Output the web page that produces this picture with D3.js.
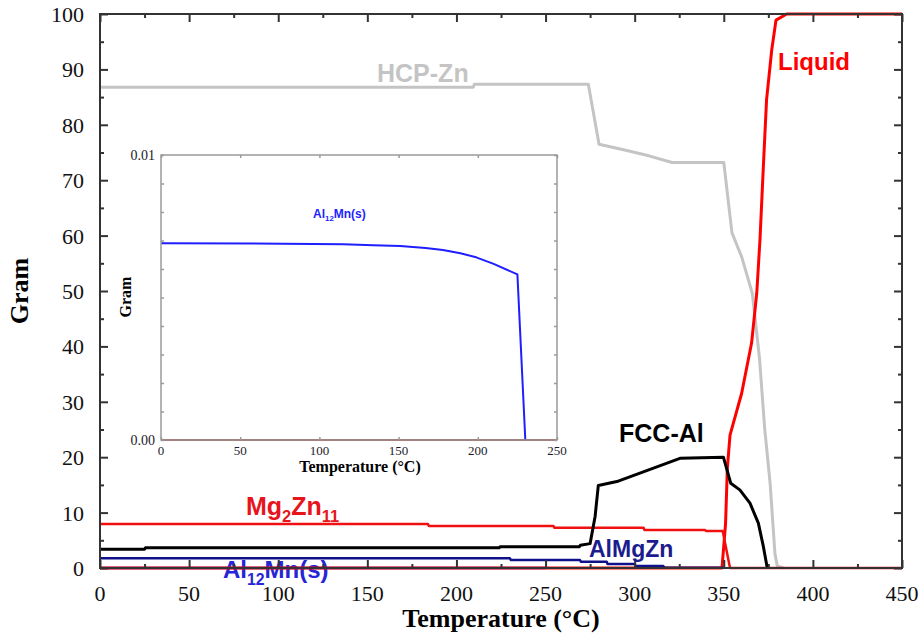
<!DOCTYPE html>
<html>
<head>
<meta charset="utf-8">
<script src="https://cdn.jsdelivr.net/npm/d3@7"></script>
<style>
  body { margin: 0; background: #fff; }
  svg { display: block; }
</style>
</head>
<body>
<svg id="chart" width="922" height="639"></svg>
<script>
// Equilibrium phase amounts (gram) versus temperature (°C)
const hcpZnTemp = [0, 209.5, 210, 274, 280, 295, 308, 321, 350, 354.6, 360, 366, 370, 373, 376, 378.7, 380, 383.4];
const hcpZnGram = [86.8, 86.8, 87.3, 87.3, 76.5, 75.4, 74.4, 73.2, 73.2, 60.5, 56.2, 49.6, 38, 25, 15.3, 2.6, 0.4, 0];

const liquidTemp = [0, 349, 351, 352, 353.5, 360, 365.6, 368.5, 370.3, 372.2, 374, 376.9, 379.3, 385.3, 450];
const liquidGram = [0, 0, 8, 18, 24, 31.5, 40.6, 49.6, 59.2, 72.4, 84.5, 93.5, 98.9, 100, 100];

const fccAlTemp = [0, 25, 25.5, 224, 224.5, 269, 269.5, 275, 277.8, 279.6, 290, 325.4, 349.8, 353.9, 359, 364.7, 369.4, 372.2, 374.4];
const fccAlGram = [3.4, 3.4, 3.67, 3.67, 3.85, 3.85, 4.1, 4.4, 9.3, 14.9, 15.6, 19.8, 20.0, 15.3, 14.1, 11.7, 8.1, 3.9, 0];

const mg2Zn11Temp = [0, 184, 184.5, 254.4, 255, 305, 305.5, 339.5, 340, 349.4, 353.5, 450];
const mg2Zn11Gram = [7.94, 7.94, 7.58, 7.58, 7.27, 7.27, 6.86, 6.86, 6.68, 6.68, 0, 0];

const alMgZnTemp = [0, 230, 230.5, 269.3, 269.8, 284.3, 284.8, 300, 300.5, 316, 316.5, 350];
const alMgZnGram = [1.75, 1.75, 1.44, 1.44, 1.14, 1.14, 0.72, 0.72, 0.36, 0.36, 0.1, 0.05];

// Al12Mn(s) is tiny; it gets its own magnified panel
const al12MnTemp = [0, 77, 115, 134, 151, 167, 178, 189, 199, 210, 225, 230, 250];
const al12MnGram = [0.0069, 0.00689, 0.00687, 0.00683, 0.00681, 0.00674, 0.00667, 0.00655, 0.00641, 0.00618, 0.00581, 0, 0];
const insetBaseTemp = [0, 250];
const insetBaseGram = [0, 0];

// axis ticks
const mainXTicks = [0, 50, 100, 150, 200, 250, 300, 350, 400, 450];
const mainXMinor = [25, 75, 125, 175, 225, 275, 325, 375, 425];
const mainYTicks = [0, 10, 20, 30, 40, 50, 60, 70, 80, 90, 100];
const mainYMinor = [5, 15, 25, 35, 45, 55, 65, 75, 85, 95];
const insetXTicks = [0, 50, 100, 150, 200, 250];
const insetXMinor = [25, 75, 125, 175, 225];
const insetYLabels = [0, 0.01];
const insetYTicks = [0, 0.001, 0.002, 0.003, 0.004, 0.005, 0.006, 0.007, 0.008, 0.009, 0.01];

const zip = (t, g) => t.map((d, i) => [d, g[i]]);

const svg = d3.select('#chart');
const serif = '"Liberation Serif", "Times New Roman", serif';
const sans = '"Liberation Sans", Arial, sans-serif';

// ---------- main panel ----------
const x = d3.scaleLinear().domain([0, 450]).range([100, 902]);
const y = d3.scaleLinear().domain([0, 100]).range([568, 14]);

function drawFrame(g, xs, ys, xMaj, xMin, yMaj, yMin, big, small, color, width) {
  const [x0, x1] = xs.range();
  const [y0, y1] = ys.range();
  const sides = [
    [d3.axisBottom, xs, xMaj, xMin, `translate(0,${y0})`],
    [d3.axisTop, xs, xMaj, xMin, `translate(0,${y1})`],
    [d3.axisLeft, ys, yMaj, yMin, `translate(${x0},0)`],
    [d3.axisRight, ys, yMaj, yMin, `translate(${x1},0)`]
  ];
  sides.forEach(([ax, sc, maj, min, tr]) => {
    [[maj, big], [min, small]].forEach(([vals, len]) => {
      const a = g.append('g').attr('transform', tr)
        .call(ax(sc).tickValues(vals).tickSize(-len).tickFormat(''));
      a.select('.domain').remove();
      a.selectAll('line').attr('stroke', color).attr('stroke-width', width);
    });
  });
  g.append('rect')
    .attr('x', x0).attr('y', y1)
    .attr('width', x1 - x0).attr('height', y0 - y1)
    .attr('fill', 'none').attr('stroke', color).attr('stroke-width', width);
}

function phaseLabel(parts, px, py, size, color, family) {
  const t = svg.append('text')
    .attr('x', px).attr('y', py)
    .attr('font-family', family || sans)
    .attr('font-weight', 'bold')
    .attr('font-size', size)
    .attr('fill', color);
  let shifted = 0;
  parts.forEach(([s, sub]) => {
    const want = sub ? Math.round(size * 0.28) : 0;
    t.append('tspan')
      .attr('dy', want - shifted)
      .attr('font-size', sub ? size * 0.66 : size)
      .text(s);
    shifted = want;
  });
  return t;
}

// labels sit underneath the curves
phaseLabel([['Al', false], ['12', true], ['Mn(s)', false]], 223, 578, 24, '#2626d6');

const clipId = 'plotClip';
svg.append('clipPath').attr('id', clipId).append('rect')
  .attr('x', 100).attr('y', 12).attr('width', 802).attr('height', 558);

const line = d3.line().x(d => x(d[0])).y(d => y(d[1]));
const plot = svg.append('g').attr('clip-path', `url(#${clipId})`);

const series = [
  { data: zip(al12MnTemp, al12MnGram), color: '#2a2aff', w: 2.5 },
  { data: zip(hcpZnTemp, hcpZnGram), color: '#c4c4c4', w: 3 },
  { data: zip(liquidTemp, liquidGram), color: '#ff0000', w: 3 },
  { data: zip(mg2Zn11Temp, mg2Zn11Gram), color: '#f01010', w: 2.5 },
  { data: zip(alMgZnTemp, alMgZnGram), color: '#10108a', w: 2.5 },
  { data: zip(fccAlTemp, fccAlGram), color: '#000000', w: 3 }
];
series.forEach(s => {
  plot.append('path')
    .attr('d', line(s.data))
    .attr('fill', 'none')
    .attr('stroke', s.color)
    .attr('stroke-width', s.w)
    .attr('stroke-linejoin', 'round');
});

drawFrame(svg.append('g'), x, y, mainXTicks, mainXMinor, mainYTicks, mainYMinor, 8, 4, '#333', 2);

svg.append('g').selectAll('text').data(mainXTicks).join('text')
  .attr('x', d => x(d)).attr('y', 601)
  .attr('text-anchor', 'middle')
  .attr('font-family', serif).attr('font-size', 22).attr('fill', '#111')
  .text(d => d);
svg.append('g').selectAll('text').data(mainYTicks).join('text')
  .attr('x', 84).attr('y', d => y(d) + 8)
  .attr('text-anchor', 'end')
  .attr('font-family', serif).attr('font-size', 22).attr('fill', '#111')
  .text(d => d);

svg.append('text')
  .attr('x', 501).attr('y', 627)
  .attr('text-anchor', 'middle')
  .attr('font-family', serif).attr('font-weight', 'bold').attr('font-size', 26)
  .text('Temperature (°C)');
svg.append('text')
  .attr('transform', 'translate(28,291) rotate(-90)')
  .attr('text-anchor', 'middle')
  .attr('font-family', serif).attr('font-weight', 'bold').attr('font-size', 26)
  .text('Gram');

phaseLabel([['HCP-Zn', false]], 377, 82, 25, '#c4c4c4');
phaseLabel([['Liquid', false]], 778, 70, 24, '#ff0000');
phaseLabel([['FCC-Al', false]], 619, 442, 25, '#000000');
phaseLabel([['Mg', false], ['2', true], ['Zn', false], ['11', true]], 246, 515, 25, '#e8141c');
phaseLabel([['AlMgZn', false]], 589, 557, 23, '#1c1c8e');

// ---------- magnified Al12Mn(s) panel ----------
const ix = d3.scaleLinear().domain([0, 250]).range([161, 557]);
const iy = d3.scaleLinear().domain([0, 0.01]).range([440, 155]);

svg.append('rect')
  .attr('x', 161).attr('y', 155).attr('width', 396).attr('height', 285)
  .attr('fill', '#fff');

const iline = d3.line().x(d => ix(d[0])).y(d => iy(d[1]));
svg.append('path')
  .attr('d', iline(zip(insetBaseTemp, insetBaseGram)))
  .attr('fill', 'none').attr('stroke', '#c03a3a').attr('stroke-width', 2.2);
svg.append('path')
  .attr('d', iline(zip(al12MnTemp.slice(0, 12), al12MnGram.slice(0, 12))))
  .attr('fill', 'none').attr('stroke', '#1e1eff').attr('stroke-width', 2)
  .attr('stroke-linejoin', 'round');

drawFrame(svg.append('g'), ix, iy, insetXTicks, insetXMinor, insetYTicks, [], 3, 0, '#9a9a9a', 1.5);

svg.append('g').selectAll('text').data(insetXTicks).join('text')
  .attr('x', d => ix(d)).attr('y', 455)
  .attr('text-anchor', 'middle')
  .attr('font-family', serif).attr('font-size', 13).attr('fill', '#1a1a2a')
  .text(d => d);
svg.append('g').selectAll('text').data(insetYLabels).join('text')
  .attr('x', 155).attr('y', d => iy(d) + 5)
  .attr('text-anchor', 'end')
  .attr('font-family', serif).attr('font-size', 14).attr('fill', '#1a1a2a')
  .text(d => d3.format('.2f')(d));

svg.append('text')
  .attr('x', 360).attr('y', 472)
  .attr('text-anchor', 'middle')
  .attr('font-family', serif).attr('font-weight', 'bold').attr('font-size', 16)
  .text('Temperature (°C)');
svg.append('text')
  .attr('transform', 'translate(131,297) rotate(-90)')
  .attr('text-anchor', 'middle')
  .attr('font-family', serif).attr('font-weight', 'bold').attr('font-size', 16)
  .text('Gram');

phaseLabel([['Al', false], ['12', true], ['Mn(s)', false]], 313, 218, 12, '#1e1eff');
</script>
</body>
</html>
